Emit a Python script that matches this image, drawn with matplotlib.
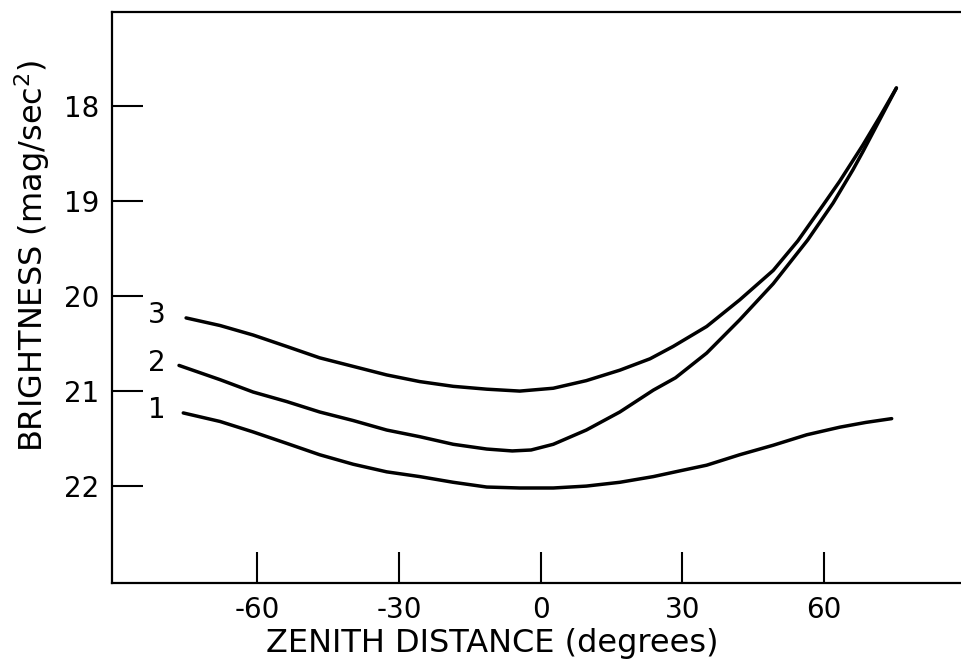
import matplotlib
matplotlib.use("Agg")
import matplotlib.pyplot as plt

# Sky brightness versus zenith distance for three observing conditions
zd_1 = [-75.7, -67.9, -60.9, -53.8, -46.8, -39.7, -32.6, -25.6, -18.5, -11.4,
        -4.4, 2.7, 9.7, 16.8, 23.9, 29.5, 35.2, 42.2, 49.3, 56.4, 63.4, 68.9, 74.4]
mag_1 = [21.23, 21.32, 21.43, 21.55, 21.67, 21.77, 21.85, 21.90, 21.96, 22.01,
         22.02, 22.02, 22.00, 21.96, 21.90, 21.84, 21.78, 21.67, 21.57, 21.46,
         21.38, 21.33, 21.29]

zd_2 = [-76.6, -67.9, -60.9, -53.8, -46.8, -39.7, -32.6, -25.6, -18.5, -11.4,
        -6.0, -2.0, 2.7, 9.7, 16.8, 23.9, 28.6, 35.2, 42.2, 49.3, 56.6, 62.0,
        66.2, 68.3, 71.8, 75.4]
mag_2 = [20.73, 20.88, 21.01, 21.11, 21.22, 21.31, 21.41, 21.48, 21.56, 21.61,
         21.63, 21.62, 21.56, 21.41, 21.22, 20.99, 20.86, 20.60, 20.25, 19.87,
         19.41, 19.02, 18.67, 18.48, 18.15, 17.81]

zd_3 = [-75.1, -67.9, -60.9, -53.8, -46.8, -39.7, -32.6, -25.6, -18.5, -11.4,
        -4.4, 2.7, 9.7, 16.8, 23.2, 28.1, 35.2, 42.2, 49.3, 54.5, 59.9, 63.4,
        68.3, 71.8, 75.4]
mag_3 = [20.23, 20.31, 20.41, 20.53, 20.65, 20.74, 20.83, 20.90, 20.95, 20.98,
         21.00, 20.97, 20.89, 20.78, 20.66, 20.53, 20.32, 20.04, 19.73, 19.42,
         19.04, 18.79, 18.41, 18.12, 17.81]

curve_labels = ["1", "2", "3"]
label_x = [-81.3, -81.3, -81.3]
label_y = [21.2, 20.7, 20.2]

x_ticks = [-60, -30, 0, 30, 60]
x_tick_labels = ["-60", "-30", "0", "30", "60"]
y_ticks = [18, 19, 20, 21, 22]
y_tick_labels = ["18", "19", "20", "21", "22"]

plt.rcParams["font.family"] = ["DejaVu Sans"]

fig = plt.figure(figsize=(9.62, 6.63), dpi=100)
ax = fig.add_axes([112 / 962, 80 / 663, 850 / 962, 571 / 663])

for zd, mag in [(zd_1, mag_1), (zd_2, mag_2), (zd_3, mag_3)]:
    ax.plot(zd, mag, color="black", lw=2.5, solid_capstyle="round",
            solid_joinstyle="round")

for lab, lx, ly in zip(curve_labels, label_x, label_y):
    ax.text(lx, ly, lab, fontsize=20, ha="center", va="center")

ax.set_xlim(-90.8, 89.3)
ax.set_ylim(23.02, 17.01)

ax.set_xticks(x_ticks)
ax.set_xticklabels(x_tick_labels)
ax.set_yticks(y_ticks)
ax.set_yticklabels(y_tick_labels)

ax.tick_params(axis="both", direction="in", length=22, width=1.5,
               labelsize=20, color="black")
ax.tick_params(axis="x", pad=9, top=False)
ax.tick_params(axis="y", pad=9, right=False)

for side in ["left", "bottom", "top"]:
    ax.spines[side].set_linewidth(1.6)
ax.spines["right"].set_visible(False)

ax.set_xlabel("ZENITH DISTANCE (degrees)", fontsize=23)
ax.set_ylabel("BRIGHTNESS (mag/sec$^{2}$)", fontsize=23)
ax.xaxis.set_label_coords(0.447, -0.078)
ax.yaxis.set_label_coords(-0.070, 0.573)

fig.savefig("out.png", dpi=100)
